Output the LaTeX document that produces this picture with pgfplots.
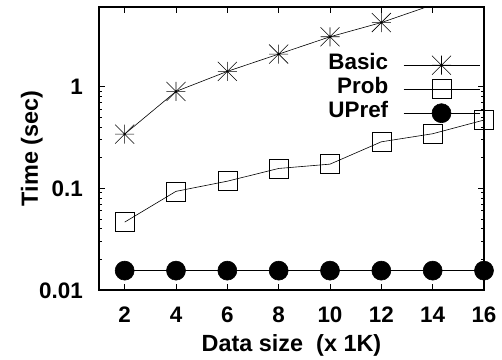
\documentclass[border=0pt]{standalone}
\usepackage{pgfplots}
\pgfplotsset{compat=1.18}
\usepackage{fontspec}
\setmainfont{Liberation Sans}
\pgfdeclareplotmark{gpstar}{%
  \pgfpathmoveto{\pgfqpoint{-\pgfplotmarksize}{0pt}}\pgfpathlineto{\pgfqpoint{\pgfplotmarksize}{0pt}}%
  \pgfpathmoveto{\pgfqpoint{0pt}{-\pgfplotmarksize}}\pgfpathlineto{\pgfqpoint{0pt}{\pgfplotmarksize}}%
  \pgfpathmoveto{\pgfqpoint{-\pgfplotmarksize}{-\pgfplotmarksize}}\pgfpathlineto{\pgfqpoint{\pgfplotmarksize}{\pgfplotmarksize}}%
  \pgfpathmoveto{\pgfqpoint{-\pgfplotmarksize}{\pgfplotmarksize}}\pgfpathlineto{\pgfqpoint{\pgfplotmarksize}{-\pgfplotmarksize}}%
  \pgfusepathqstroke}
\newcommand{\bigbf}{\fontsize{22.5}{25}\selectfont\bfseries}
\newcommand{\labbf}{\fontsize{23.5}{26}\selectfont\bfseries}
\begin{document}
\begin{tikzpicture}
\begin{axis}[
  name=ax,
  scale only axis,
  width=385bp, height=283bp,
  ymode=log,
  xmin=1, xmax=16,
  ymin=0.01, ymax=6,
  xtick={2,4,...,16},
  ytick={0.01,0.1,1},
  yticklabels={0.01,0.1,1},
  /pgf/number format/assume math mode=true,
  font=\bigbf,
  tick label style={font=\bigbf, inner sep=0pt},
  xticklabel style={anchor=base, yshift=-32bp},
  yticklabel style={anchor=base east, xshift=-16bp, yshift=-8bp, text width=55bp, align=right},
  major tick length=6bp,
  minor tick length=3bp,
  tick style={black, line width=0.6bp},
  axis line style={line width=1.2bp},
  xlabel={Data size\ \ (x 1K)},
  ylabel={Time (sec)},
  xlabel style={at={([yshift=-61bp]axis description cs:0.5,0)}, anchor=base, inner sep=0pt, font=\labbf},
  ylabel style={at={([xshift=-61bp]axis description cs:0,0.5)}, anchor=base, inner sep=0pt, font=\labbf},
  legend style={draw=none, fill=none, at={([xshift=-4bp,yshift=-46bp]axis description cs:1,1)}, anchor=north east,
    font=\bigbf, row sep=0bp, inner sep=0pt,
    nodes={inner sep=0pt, text height=16bp, text depth=8bp},
    /tikz/every odd column/.append style={column sep=15bp}},
  legend cell align=right,
  legend plot pos=right,
  legend image code/.code={\draw[mark repeat=2,mark phase=2,#1] plot coordinates {(0bp,0bp)(38bp,0bp)(76bp,0bp)};},
]
\addplot[black, line width=0.6bp, mark=gpstar, mark size=9.5bp, mark options={line width=0.6bp}] coordinates {
(2,0.339)(4,0.89)(6,1.40)(8,2.07)(10,3.06)(12,4.22)};
\addlegendentry{Basic}
\addplot[black, line width=0.6bp, mark=square, mark size=9.5bp, mark options={line width=0.6bp}] coordinates {
(2,0.0464)(4,0.093)(6,0.117)(8,0.156)(10,0.172)(12,0.285)(14,0.342)(16,0.466)};
\addlegendentry{Prob}
\addplot[black, line width=0.6bp, mark=*, mark size=9.5bp] coordinates {
(2,0.0155)(4,0.0155)(6,0.0155)(8,0.0155)(10,0.0155)(12,0.0155)(14,0.0155)(16,0.0155)};
\addlegendentry{UPref}
\addplot[black, line width=0.6bp, forget plot] coordinates {(12,4.22)(14,6.3)(16,9)};
\end{axis}
\pgfresetboundingbox
\path[use as bounding box] ([xshift=-99bp,yshift=-70bp]ax.south west) rectangle ([xshift=18bp,yshift=7bp]ax.north east);
\end{tikzpicture}
\end{document}
